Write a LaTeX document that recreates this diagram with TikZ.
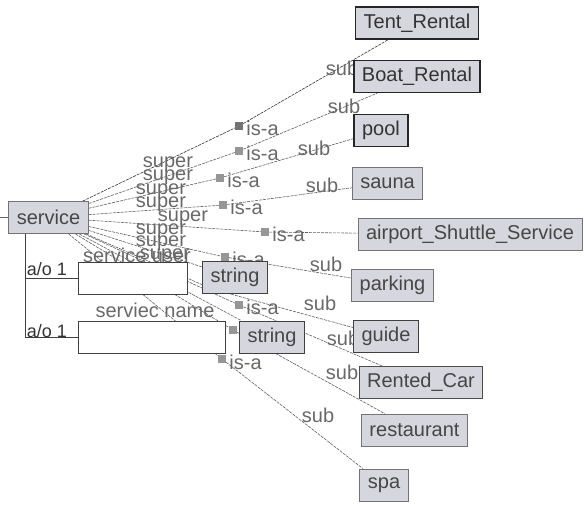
\documentclass[tikz,border=0pt]{standalone}
\usepackage{fontspec}
\setmainfont{Liberation Sans}
\usetikzlibrary{positioning,backgrounds}
\definecolor{boxgray}{RGB}{214,214,222}
\definecolor{edgegray}{RGB}{95,95,95}
\definecolor{txtgray}{RGB}{70,70,70}
\definecolor{lblgray}{RGB}{105,105,105}
\definecolor{markgray}{RGB}{150,150,150}
\tikzset{
  cls/.style={draw=black!55, fill=boxgray, text=txtgray, line width=0.9pt,
    inner xsep=8pt, minimum height=32pt, font=\fontsize{20}{22}\selectfont},
  clsdark/.style={cls, draw=black!85, line width=1.4pt, text=black!80},
  slot/.style={draw=black!75, fill=white, line width=0.9pt, minimum height=32pt},
  isa/.style={fill=markgray, minimum size=8pt, inner sep=0pt},
  rel/.style={draw=edgegray, line width=0.6pt, dash pattern=on 3pt off 1pt},
  lbl/.style={text=lblgray, inner sep=0pt, font=\fontsize{20}{22}\selectfont},
}

\begin{document}
\begin{tikzpicture}[x=1pt,y=-1pt]
    \useasboundingbox (0,0) rectangle (588,506);
    % classes
    \node[cls] (service) at (48.5,217.5) {service};
    \node[clsdark] (tent) at (417,23) {Tent\_Rental};
    \node[clsdark] (boat) at (417,76.5) {Boat\_Rental};
    \node[clsdark] (pool) at (381,130.5) {pool};
    \node[cls] (sauna) at (387.5,183) {sauna};
    \node[cls] (airport) at (470,234.5) {airport\_Shuttle\_Service};
    \node[cls] (parking) at (392.5,285) {parking};
    \node[cls, draw=black!75] (guide) at (386,336.5) {guide};
    \node[cls, draw=black!70] (rented) at (421,382.5) {Rented\_Car};
    \node[cls] (restaurant) at (414.5,430) {restaurant};
    \node[cls] (spa) at (384,485) {spa};
    \node[cls, draw=black!75] (string1) at (235,277.5) {string};
    \node[cls, draw=black!75] (string2) at (272,337) {string};
    % slots
    \node[slot, minimum width=109pt] (slotA) at (132.5,278) {};
    \node[slot, minimum width=147pt] (slotB) at (151.5,337) {};
    \node[lbl, text=black!80, font=\fontsize{18}{20}\selectfont] (aoA) at (47,269) {a/o 1};
    \node[lbl, text=black!80, font=\fontsize{18}{20}\selectfont] (aoB) at (47,331) {a/o 1};
    \coordinate (edgeL) at (0,217.5);
    \draw[black!60, line width=0.8pt] (edgeL) -- (service.west);
    \draw[black!75, line width=0.8pt] ([xshift=-23.5pt]service.south) |- (slotA.west);
    \draw[black!75, line width=0.8pt] ([xshift=-23.5pt]service.south) |- (slotB.west);

    \begin{pgfonlayer}{background}
    % is-a markers
    \node[isa, fill=black!55] (isa1) at (239,126) {};
    \node[isa] (isa2) at (239,151) {};
    \node[isa] (isa3) at (220,178) {};
    \node[isa] (isa4) at (223,205) {};
    \node[isa] (isa5) at (265,232) {};
    \node[isa] (isa6) at (225,257) {};
    \coordinate (isaG) at (212,289);
    \node[isa] (isa7) at (239,305) {};
    \node[isa] (isa8) at (233,330) {};
    \node[isa] (isa9) at (222,359) {};
    \node[lbl, right=3pt of isa1, yshift=-2pt] (isat1) {is-a};
    \node[lbl, right=3pt of isa2, yshift=-2pt] (isat2) {is-a};
    \node[lbl, right=3pt of isa3, yshift=-2pt] (isat3) {is-a};
    \node[lbl, right=3pt of isa4, yshift=-2pt] (isat4) {is-a};
    \node[lbl, right=3pt of isa5, yshift=-2pt] (isat5) {is-a};
    \node[lbl, right=3pt of isa6, yshift=-2pt] (isat6) {is-a};
    \node[lbl, right=3pt of isa7, yshift=-2pt] (isat7) {is-a};
    \node[lbl, right=3pt of isa8, yshift=-2pt] (isat8) {is-a};
    \node[lbl, right=3pt of isa9, yshift=-3pt] (isat9) {is-a};
    % super edges
    \draw[rel, draw=black!80] (service) -- (isa1);
    \draw[rel] (service) -- (isa2);
    \draw[rel] (service) -- (isa3);
    \draw[rel] (service) -- (isa4);
    \draw[rel] (service) -- (isa5);
    \draw[rel] (service) -- (isa6);
    \draw[rel] (service) -- (isaG);
    \draw[rel] (service) -- (isa7);
    \draw[rel] (service) -- (isa8);
    \draw[rel] (service) -- (isa9);
    \draw[rel] (service) -- (string1);
    \draw[rel] (service) -- (string2);
    \node[lbl] (sup1) at (168,164) {super};
    \node[lbl] (sup2) at (168,177) {super};
    \node[lbl] (sup3) at (161,191) {super};
    \node[lbl] (sup4) at (161,204) {super};
    \node[lbl] (sup5) at (183,218) {super};
    \node[lbl] (sup6) at (161,231) {super};
    \node[lbl] (sup7) at (161,243) {super};
    \node[lbl] (sup8) at (165,256) {super};
    \node[lbl] (userlbl) at (137,255) {service user};
    \node[lbl] (namelbl) at (155,310) {serviec name};
    % sub edges
    \draw[rel, draw=black!80] (isa1) -- (tent);
    \draw[rel] (isa2) -- (boat);
    \draw[rel] (isa3) -- (pool);
    \draw[rel] (isa4) -- (sauna);
    \draw[rel] (isa5) -- (airport);
    \draw[rel] (isa6) -- (parking);
    \draw[rel] (isaG) -- (guide);
    \draw[rel] (isa7) -- (rented);
    \draw[rel] (isa8) -- (restaurant);
    \draw[rel] (isa9) -- (spa);
    \node[lbl] (sub1) at (342,68) {sub};
    \node[lbl] (sub2) at (344,106) {sub};
    \node[lbl] (sub3) at (314,148) {sub};
    \node[lbl] (sub4) at (322,185) {sub};
    \node[lbl] (sub6) at (326,264) {sub};
    \node[lbl] (subG) at (320,303) {sub};
    \node[lbl] (sub7) at (343,338) {sub};
    \node[lbl] (sub8) at (342,372) {sub};
    \node[lbl] (sub9) at (318,415) {sub};
    \end{pgfonlayer}
\end{tikzpicture}
\end{document}
